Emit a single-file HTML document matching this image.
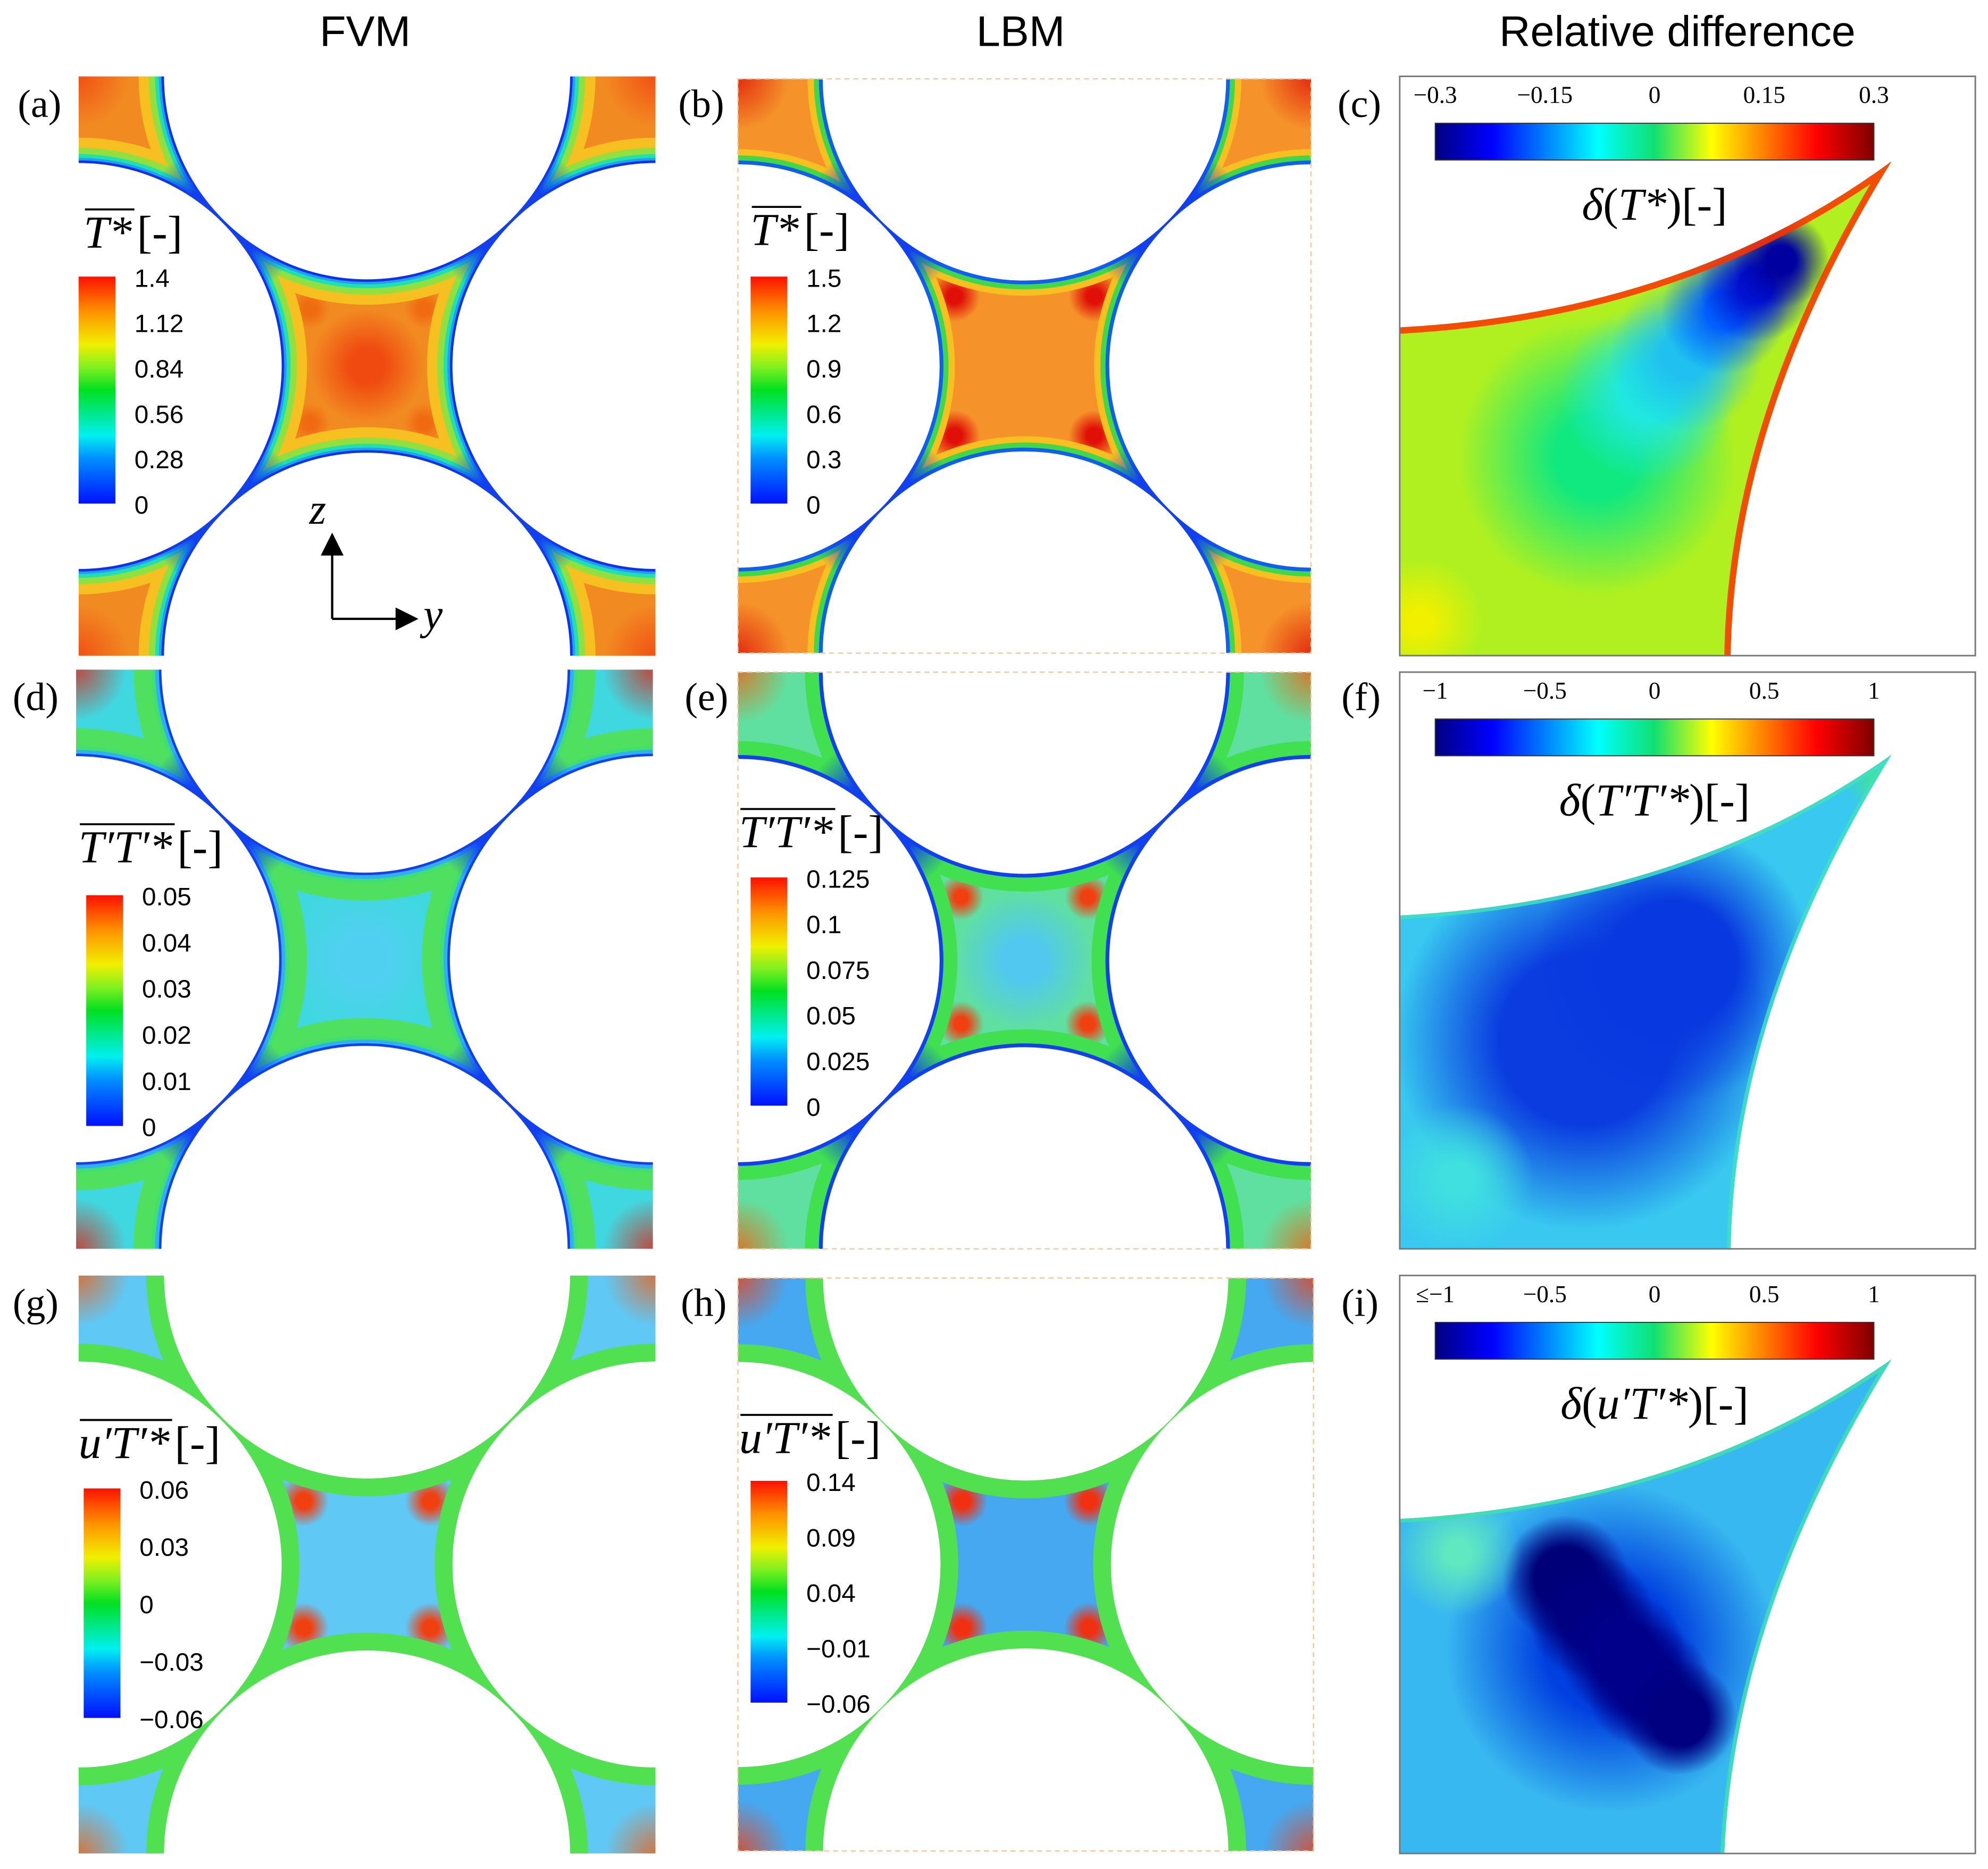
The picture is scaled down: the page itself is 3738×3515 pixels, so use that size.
<!DOCTYPE html>
<html><head><meta charset="utf-8"><style>
html,body{margin:0;padding:0;background:#fff;width:3738px;height:3515px;overflow:hidden;position:relative;}
svg{display:block;position:absolute;left:0;top:0;}
</style></head><body>
<svg id="fig" xmlns="http://www.w3.org/2000/svg" width="3738" height="3515" viewBox="0 0 1568 1474">
<defs>
<linearGradient id="jetV" x1="0" y1="1" x2="0" y2="0">
<stop offset="0" stop-color="#0010ff"/><stop offset="0.2" stop-color="#0090ff"/><stop offset="0.3" stop-color="#00f0f0"/><stop offset="0.5" stop-color="#00e020"/><stop offset="0.6" stop-color="#80f020"/><stop offset="0.7" stop-color="#f0f000"/><stop offset="0.85" stop-color="#ff9000"/><stop offset="1" stop-color="#ff1000"/>
</linearGradient>
<linearGradient id="jetH" x1="0" y1="0" x2="1" y2="0">
<stop offset="0" stop-color="#00007f"/><stop offset="0.13" stop-color="#0000ff"/><stop offset="0.37" stop-color="#00ffff"/><stop offset="0.5" stop-color="#10e070"/><stop offset="0.63" stop-color="#ffff00"/><stop offset="0.87" stop-color="#ff0000"/><stop offset="1" stop-color="#7f0000"/>
</linearGradient>
</defs>
<g id="titles"></g>
<g id="panels"></g>
</svg>
<script>
const NS="http://www.w3.org/2000/svg";
const svg=document.getElementById('fig');
const defs=svg.querySelector('defs');
function el(tag,attrs,parent){const e=document.createElementNS(NS,tag);for(const k in attrs)e.setAttribute(k,attrs[k]);(parent||svg).appendChild(e);return e;}

// ---- data ----
const colTitles=["FVM","LBM","Relative difference"];
const ticksA=["1.4","1.12","0.84","0.56","0.28","0"];
const ticksB=["1.5","1.2","0.9","0.6","0.3","0"];
const ticksD=["0.05","0.04","0.03","0.02","0.01","0"];
const ticksE=["0.125","0.1","0.075","0.05","0.025","0"];
const ticksG=["0.06","0.03","0","\u22120.03","\u22120.06"];
const ticksH=["0.14","0.09","0.04","\u22120.01","\u22120.06"];
const ticksC=["\u22120.3","\u22120.15","0","0.15","0.3"];
const ticksF=["\u22121","\u22120.5","0","0.5","1"];
const ticksI=["\u2264\u22121","\u22120.5","0","0.5","1"];

const titlesG=document.getElementById('titles');
[288,805,1323].forEach((x,i)=>{const t=el('text',{x:x,y:36,'font-family':'Liberation Sans, sans-serif','font-size':34,'text-anchor':'middle'},titlesG);t.textContent=colTitles[i];

});

const P=document.getElementById('panels');
let gid=0;
function radial(c1,op,solid){const id='rg'+(gid++);const g=el('radialGradient',{id:id},defs);el('stop',{offset:0,'stop-color':c1,'stop-opacity':op||1},g);el('stop',{offset:solid||0.3,'stop-color':c1,'stop-opacity':op||1},g);el('stop',{offset:1,'stop-color':c1,'stop-opacity':0},g);return 'url(#'+id+')';}

const maps=[
 {id:'a',x:62,y:60,w:455,h:457,dash:false,base:'#f28a22',rings:[[20,'#f5c020'],[12,'#90e040'],[7,'#20e0b0'],[4,'#20a0f0'],[2,'#1030f0']],hot:[[0,0,45,'#f04a10'],[-45,-45,16,'#f06a10'],[45,45,16,'#f06a10'],[-45,45,16,'#f06a10'],[45,-45,16,'#f06a10']],corner:'#f04010',cusp:'#1040f0'},
 {id:'b',x:582,y:62,w:452,h:453,dash:true,base:'#f5922a',rings:[[12,'#f5c020'],[7,'#40d848'],[3,'#1060f0']],hot:[[-55,-55,20,'#e01008'],[55,-55,20,'#e01008'],[-55,55,20,'#e01008'],[55,55,20,'#e01008']],corner:'#e01008',cusp:'#1040f0'},
 {id:'d',x:60,y:528,w:455,h:457,dash:false,base:'#40d8e0',rings:[[22,'#50e060'],[8,'#40e070'],[5,'#30b0f0'],[2,'#1040f0']],hot:[[0,0,60,'#50d0f0'],[-66,0,14,'#e02010'],[66,0,14,'#e02010'],[0,-66,14,'#e02010'],[0,66,14,'#e02010']],corner:'#e02010',cusp:'#1040f0'},
 {id:'e',x:582,y:530,w:452,h:455,dash:true,base:'#60e0a0',rings:[[14,'#40e050'],[3,'#1040f0']],hot:[[0,0,55,'#50c8f0'],[-50,-50,18,'#f04010'],[50,-50,18,'#f04010'],[-50,50,18,'#f04010'],[50,50,18,'#f04010']],corner:'#f06010',cusp:'#1040f0'},
 {id:'g',x:62,y:1006,w:455,h:456,dash:false,base:'#60c8f5',rings:[[14,'#50e050']],hot:[[-50,-50,20,'#f04010'],[50,-50,20,'#f04010'],[-50,50,20,'#f04010'],[50,50,20,'#f04010']],corner:'#f06010',cusp:null},
 {id:'h',x:582,y:1008,w:454,h:452,dash:true,base:'#45a8f0',rings:[[14,'#50e050']],hot:[[-50,-50,20,'#f03010'],[50,-50,20,'#f03010'],[-50,50,20,'#f03010'],[50,50,20,'#f03010']],corner:'#f04010',cusp:null}
];

maps.forEach(m=>{
 const g=el('g',{},P);
 
 
 const r=m.w*0.352;
 const cx=m.x+m.w/2, cy=m.y+m.h/2;
 const centers=[[cx,m.y],[cx,m.y+m.h],[m.x,cy],[m.x+m.w,cy]];
 const cid='clip'+m.id;
 const cp=el('clipPath',{id:cid},defs);el('rect',{x:m.x,y:m.y,width:m.w,height:m.h},cp);
 const mid='mask'+m.id;
 const mk=el('mask',{id:mid},defs);el('rect',{x:m.x,y:m.y,width:m.w,height:m.h,fill:'#fff'},mk);
 centers.forEach(c=>el('circle',{cx:c[0],cy:c[1],r:r,fill:'#000'},mk));
 const f=el('g',{'clip-path':'url(#'+cid+')',mask:'url(#'+mid+')'},g);
 el('rect',{x:m.x,y:m.y,width:m.w,height:m.h,fill:m.base},f);
 m.hot.forEach(h=>el('circle',{cx:cx+h[0],cy:cy+h[1],r:h[2],fill:radial(h[3])},f));
 [[m.x,m.y],[m.x+m.w,m.y],[m.x,m.y+m.h],[m.x+m.w,m.y+m.h]].forEach(c=>el('circle',{cx:c[0],cy:c[1],r:40,fill:radial(m.corner,0.7,0.1)},f));
 m.rings.forEach(rg=>centers.forEach(c=>el('circle',{cx:c[0],cy:c[1],r:r+rg[0],fill:rg[1]},f)));
 if(m.cusp){[[-1,-1],[1,-1],[-1,1],[1,1]].forEach(s=>el('circle',{cx:cx+s[0]*m.w/4,cy:cy+s[1]*m.h/4,r:62,fill:radial(m.cusp,1,0.5)},f));}
 if(m.dash){const b=el('rect',{x:m.x,y:m.y,width:m.w,height:m.h,fill:'none',stroke:'#f2c89a','stroke-width':1,'stroke-dasharray':'4 3'},g);
  
  }
});

// labels
const letters=[['a',14,92],['b',535,92],['c',1055,92],['d',10,560],['e',540,560],['f',1058,560],['g',10,1038],['h',537,1038],['i',1058,1038]];
letters.forEach(l=>{const t=el('text',{x:l[1],y:l[2],'font-family':'Liberation Serif, serif','font-size':31},P);t.textContent='('+l[0]+')';

});

// vertical colorbars
function vbar(name,x,y0,y1,ticks,sym,tx,ty){
 const g=el('g',{},P);
 
 
 el('rect',{x:x,y:y0,width:29,height:y1-y0,fill:'url(#jetV)'},g);
 const n=ticks.length;
 ticks.forEach((tk,i)=>{const t=el('text',{x:x+44,y:y0+(y1-y0)*i/(n-1)+8,'font-family':'Liberation Sans, sans-serif','font-size':20},g);t.textContent=tk;});
 const s=el('text',{x:tx,y:ty,'font-family':'Liberation Serif, serif','font-size':36,'font-style':'italic'},g);
 s.textContent=sym;
 const w=s.getComputedTextLength();
 const t=el('text',{x:tx+w+4,y:ty,'font-family':'Liberation Serif, serif','font-size':36},g);
 t.textContent='[-]';
 el('line',{x1:tx+1,y1:ty-30,x2:tx+w+2,y2:ty-30,stroke:'#000','stroke-width':1.6},g);
}
vbar('a',62,218,397,ticksA,'T*',66,195);
vbar('b',592,218,397,ticksB,'T*',592,193);
vbar('d',68,706,888,ticksD,'T′T′*',62,680);
vbar('e',592,692,872,ticksE,'T′T′*',583,668);
vbar('g',66,1174,1355,ticksG,'u′T′*',62,1150);
vbar('h',592,1168,1343,ticksH,'u′T′*',583,1146);

// axes arrows
const ax=el('g',{},P);


el('path',{d:'M262,488 V435 M262,488 H315',stroke:'#000','stroke-width':1.8,fill:'none'},ax);
el('path',{d:'M262,420 L253,438 L271,438 Z M330,488 L312,479 L312,497 Z',fill:'#000'},ax);
let tz=el('text',{x:244,y:413,'font-family':'Liberation Serif, serif','font-size':34,'font-style':'italic'},ax);tz.textContent='z';
let ty=el('text',{x:334,y:496,'font-family':'Liberation Serif, serif','font-size':34,'font-style':'italic'},ax);ty.textContent='y';

// difference panels
const diffs=[
 {id:'c',y:60,h:457,ticks:ticksC,title:'T*',base:'#b0f020',topY:258,tipY:127,botX:1365,
  blobs:[[1260,360,110,'#10e880',0.3],[1300,310,70,'#20e8e0',0.3],[1330,280,60,'#20c0f0',0.3],[1360,245,50,'#0060ff',0.3],[1385,225,45,'#0010d0',0.3],[1405,205,38,'#0000a0',0.3],[1120,490,50,'#f0f000',0.2]],edge:'#ff3000',edgeW:5},
 {id:'f',y:530,h:455,ticks:ticksF,title:'T′T′*',base:'#38c8f0',topY:722,tipY:595,botX:1365,
  blobs:[[1250,820,150,'#0a3ce0',0.45],[1320,760,110,'#0838e0',0.45],[1150,930,60,'#40e0e0',0.2],[1480,615,25,'#40e0a0',0.2]],edge:'#40e0c0',edgeW:3},
 {id:'i',y:1006,h:456,ticks:ticksI,title:'u′T′*',base:'#38b8f0',topY:1198,tipY:1072,botX:1360,
  blobs:[[1270,1300,130,'#0040e0',0.4],[1235,1245,50,'#000078',0.5],[1255,1275,50,'#000080',0.5],[1280,1305,50,'#00008a',0.5],[1300,1330,50,'#00008a',0.5],[1325,1355,45,'#000080',0.5],[1150,1225,50,'#60e8c0',0.2]],edge:'#40e0b0',edgeW:3}
];
diffs.forEach(d=>{
 const g=el('g',{},P);
 
 
 const x0=1104,w=454,y0=d.y,y1=d.y+d.h;
 const curves='M'+x0+','+d.topY+' Q1330,'+(d.topY-12)+' 1492,'+d.tipY+' Q1368,'+(d.tipY+200)+' '+d.botX+','+y1;
 const path=curves+' L'+x0+','+y1+' Z';
 const cid='dclip'+d.id;const cp=el('clipPath',{id:cid},defs);el('path',{d:path},cp);
 const f=el('g',{'clip-path':'url(#'+cid+')'},g);
 el('rect',{x:x0,y:y0,width:w,height:d.h,fill:d.base},f);
 d.blobs.forEach(b=>el('circle',{cx:b[0],cy:b[1],r:b[2],fill:radial(b[3],1,b[4])},f));
 el('path',{d:curves,fill:'none',stroke:d.edge,'stroke-width':d.edgeW*2,'stroke-opacity':0.85},f);
 el('rect',{x:x0,y:y0,width:w,height:d.h,fill:'none',stroke:'#777','stroke-width':1.2},g);
 el('rect',{x:1132,y:y0+37,width:346,height:29,fill:'url(#jetH)',stroke:'#333','stroke-width':0.8},g);
 d.ticks.forEach((tk,i)=>{const t=el('text',{x:1132+346*i/4,y:y0+21,'font-family':'Liberation Serif, serif','font-size':19,'text-anchor':'middle'},g);t.textContent=tk;});
 const tt=el('text',{x:1305,y:y0+113,'font-family':'Liberation Serif, serif','font-size':36,'text-anchor':'middle'},g);
 tt.innerHTML='<tspan font-style="italic">δ</tspan>(<tspan font-style="italic">'+d.title+'</tspan>)[-]';
});
</script>
</body></html>
